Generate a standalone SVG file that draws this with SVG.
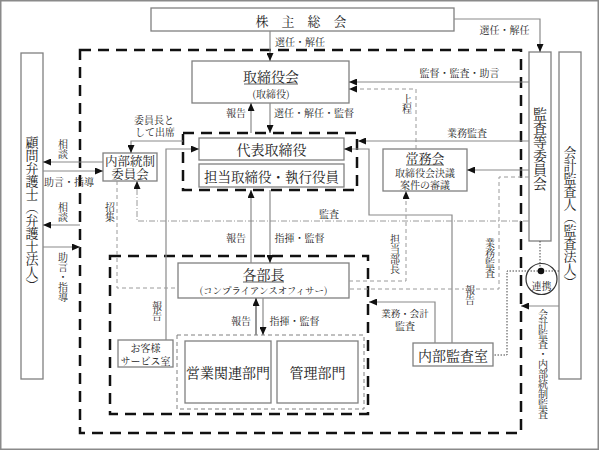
<svg xmlns="http://www.w3.org/2000/svg" width="599" height="450" viewBox="0 0 599 450">
<defs>
<style>
.frame{fill:#fff;stroke:#8a8a8a;stroke-width:1.5}
.box{fill:#fff;stroke:#808080;stroke-width:1.3}
.bigdash{fill:none;stroke:#111;stroke-width:2.5;stroke-dasharray:11,7}
.thindash{fill:none;stroke:#808080;stroke-width:1;stroke-dasharray:4,3}
.ln{fill:none;stroke:#8a8a8a;stroke-width:1.2}
.dl{fill:none;stroke:#9a9a9a;stroke-width:1;stroke-dasharray:4,3}
.dd{fill:none;stroke:#9a9a9a;stroke-width:1;stroke-dasharray:6,2,1,2}
.dot{fill:none;stroke:#444;stroke-width:1;stroke-dasharray:1.5,1.5}
.ul{stroke:#333;stroke-width:0.8}
text{font-family:"Noto Serif CJK JP","Noto Sans CJK JP",serif;fill:#222;text-anchor:middle;dominant-baseline:central}
.t14{font-size:14px}
.t13{font-size:13px}
.t10{font-size:10px}
.lb{font-size:10px}
.v{writing-mode:vertical-rl}
</style>
<marker id="ah" viewBox="0 0 8 7" refX="8" refY="3.5" markerWidth="8" markerHeight="7" markerUnits="userSpaceOnUse" orient="auto">
<path d="M0,0 L8,3.5 L0,7 z" fill="#111"/>
</marker>
</defs>
<rect class="frame" x="0.75" y="0.75" width="597.5" height="448.5"/>

<g id="frames">
<rect class="bigdash" x="80" y="50" width="441" height="383"/>
<rect class="bigdash" x="183" y="133" width="174" height="57"/>
<rect class="bigdash" x="110" y="256" width="258" height="158"/>
<rect class="thindash" x="177" y="335" width="187" height="74"/>
</g>

<g id="shareholders">
<rect class="box" x="151" y="8" width="303" height="23"/>
<text class="t13" x="301" y="20">株　主　総　会</text>
</g>

<g id="board">
<rect class="box" x="192" y="61" width="157" height="42"/>
<text class="t14" x="271" y="76">取締役会</text>
<line class="ul" x1="244" y1="84" x2="298" y2="84"/>
<text class="t10" x="271" y="93">(取締役)</text>
</g>

<g id="audit-committee">
<rect class="box" x="529" y="52" width="22" height="189"/>
<text class="t14 v" x="540" y="149">監査等委員会</text>
</g>

<g id="accounting-auditor">
<rect class="box" x="559" y="52" width="22" height="327"/>
<text class="t13 v" x="570" y="217">会計監査人（監査法人）</text>
</g>

<g id="legal-advisor">
<rect class="box" x="21" y="53" width="22" height="326"/>
<text class="t13 v" x="32" y="214">顧問弁護士（弁護士法人）</text>
</g>

<g id="representative">
<rect class="box" x="199" y="138" width="145" height="22"/>
<text class="t14" x="271.5" y="149">代表取締役</text>
</g>

<g id="executives">
<rect class="box" x="199" y="164" width="145" height="23"/>
<text class="t14" x="271.5" y="175.5" style="font-size:13.5px">担当取締役・執行役員</text>
</g>

<g id="internal-control-committee">
<rect class="box" x="103" y="153" width="54" height="28"/>
<text class="t13" x="130" y="160.5" style="font-size:12.5px">内部統制</text>
<text class="t13" x="130" y="174" style="font-size:12.5px">委員会</text>
</g>

<g id="executive-committee">
<rect class="box" x="383" y="149" width="84" height="42"/>
<text class="t13" x="425" y="157.5" style="font-size:13px">常務会</text>
<line class="ul" x1="406" y1="165" x2="444" y2="165"/>
<text class="t10" x="425" y="172" style="font-size:10px">取締役会決議</text>
<text class="t10" x="425" y="184" style="font-size:10px">案件の審議</text>
</g>

<g id="department-heads">
<rect class="box" x="178" y="263" width="171" height="35"/>
<text class="t14" x="263.5" y="274">各部長</text>
<line class="ul" x1="243" y1="282" x2="284" y2="282"/>
<text class="t10" x="263.5" y="289.5" style="font-size:9.5px">(コンプライアンスオフィサー)</text>
</g>

<g id="sales-dept">
<rect class="box" x="185" y="341" width="86" height="62"/>
<text class="t14" x="228" y="372">営業関連部門</text>
</g>

<g id="admin-dept">
<rect class="box" x="277" y="341" width="81" height="62"/>
<text class="t14" x="317.5" y="372">管理部門</text>
</g>

<g id="customer-service">
<rect class="box" x="118" y="340" width="55" height="27"/>
<text class="t10" x="145.5" y="347.5" style="font-size:10px">お客様</text>
<text class="t10" x="145.5" y="360" style="font-size:10px">サービス室</text>
</g>

<g id="internal-audit">
<rect class="box" x="413" y="343" width="80" height="23"/>
<text class="t14" x="453" y="355">内部監査室</text>
</g>

<g id="connectors">
<path class="ln" d="M270,31 V61" marker-end="url(#ah)"/>
<path class="ln" d="M454,19 H540 V52" marker-end="url(#ah)"/>
<path class="ln" d="M529,82 H349" marker-end="url(#ah)"/>
<path class="dl" d="M416,149 V89 H349" marker-end="url(#ah)"/>
<path class="ln" d="M251,133 V103" marker-end="url(#ah)"/>
<path class="ln" d="M270,103 V133" marker-end="url(#ah)"/>
<path class="ln" d="M529,141 H358" marker-end="url(#ah)"/>
<path class="ln" d="M452,343 V215 H369 V149 H344" marker-end="url(#ah)"/>
<path class="ln" d="M166,340 V149 H199" marker-end="url(#ah)"/>
<path class="ln" d="M183,141 H131 V153" marker-end="url(#ah)"/>
<path class="ln" d="M103,162 H43" marker-end="url(#ah)"/>
<path class="ln" d="M43,171 H103" marker-end="url(#ah)"/>
<path class="ln" d="M80,225 H43" marker-end="url(#ah)"/>
<path class="ln" d="M43,247 H80" marker-end="url(#ah)"/>
<path class="dd" d="M529,221 H137 V181" marker-end="url(#ah)"/>
<path class="dl" d="M117,181 V288 H178"/>
<path class="ln" d="M251,263 V190" marker-end="url(#ah)"/>
<path class="ln" d="M270,190 V263" marker-end="url(#ah)"/>
<path class="ln" d="M256,335 V298" style="stroke-width:1.8" marker-end="url(#ah)"/>
<path class="ln" d="M263,298 V335" marker-end="url(#ah)"/>
<path class="ln" d="M529,170 H467" marker-end="url(#ah)"/>
<path class="dl" d="M529,177 H499 V289 H349"/>
<path class="dl" d="M349,281 H406 V191" marker-end="url(#ah)"/>
<path class="ln" d="M435,343 V302 H369" marker-end="url(#ah)"/>
<path class="ln" d="M559,306 H521" marker-end="url(#ah)"/>
</g>

<g id="cooperation">
<circle cx="541.5" cy="279" r="15.5" fill="#fff" stroke="#333" stroke-width="1.2"/>
<path class="dot" d="M540,241 V271"/>
<path class="dot" d="M559,271 H507 V355 H493"/>
<circle cx="541" cy="271" r="3.3" fill="#111"/>
<text class="t10" x="541.5" y="285">連携</text>
</g>

<g id="labels">
<text class="lb" x="300" y="41">選任・解任</text>
<text class="lb" x="504.5" y="29">選任・解任</text>
<text class="lb" x="459.5" y="72">監督・監査・助言</text>
<text class="lb v" x="407" y="104">上程</text>
<text class="lb" x="236" y="112">報告</text>
<text class="lb" x="314" y="112">選任・解任・監督</text>
<text class="lb" x="467" y="132">業務監査</text>
<text class="lb" x="154" y="119">委員長と</text>
<text class="lb" x="155" y="131">して出席</text>
<text class="lb v" x="63" y="149">相談</text>
<text class="lb" x="69" y="181">助言・指導</text>
<text class="lb v" x="63" y="212">相談</text>
<text class="lb v" x="63" y="277">助言・指導</text>
<text class="lb v" x="110" y="212">招集</text>
<text class="lb" x="329" y="213">監査</text>
<text class="lb" x="236" y="237">報告</text>
<text class="lb" x="299.5" y="237">指揮・監督</text>
<text class="lb v" x="395" y="254">担当部長</text>
<text class="lb v" x="490" y="258">業務監査</text>
<rect x="464" y="284" width="12" height="22" fill="#fff"/>
<text class="lb v" x="470" y="295">報告</text>
<text class="lb v" x="157" y="311">報告</text>
<text class="lb" x="241" y="320">報告</text>
<text class="lb" x="294.5" y="320">指揮・監督</text>
<text class="lb" x="405" y="313" style="font-size:9.5px">業務・会計</text>
<text class="lb" x="405" y="325">監査</text>
<text class="lb v" x="543" y="364">会計監査・内部統制監査</text>
</g>
</svg>
